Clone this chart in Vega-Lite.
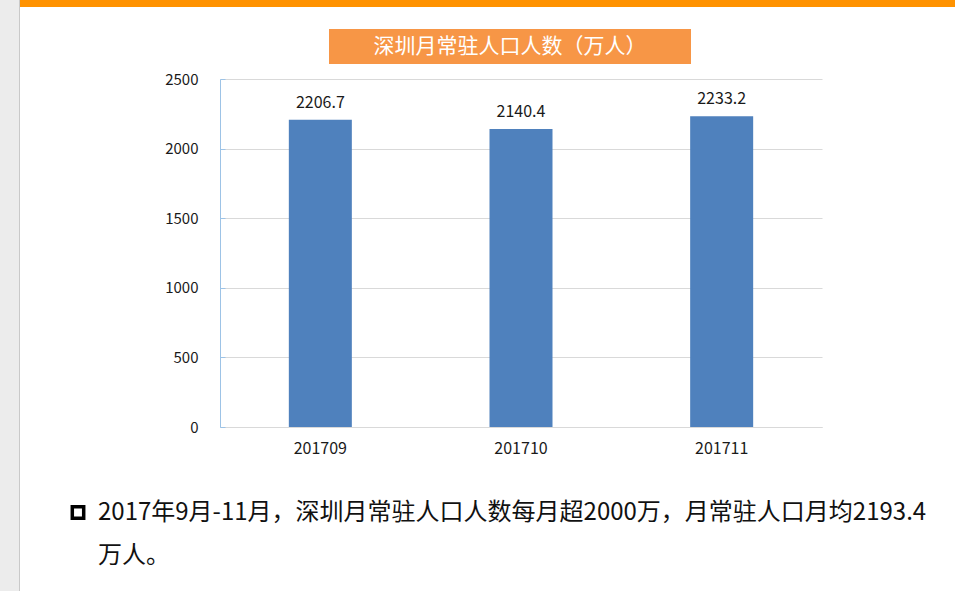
{
  "$schema": "https://vega.github.io/schema/vega-lite/v6.json",
  "padding": 0,
  "background": "#ffffff",
  "config": {
    "view": {"stroke": null},
    "font": "Noto Sans CJK SC",
    "concat": {"spacing": 0}
  },
  "hconcat": [
    {
      "width": 19, "height": 591,
      "data": {"values": [{}]},
      "view": {"fill": "#ececec", "stroke": null},
      "mark": {"type": "text", "text": "", "fontSize": 0}
    },
    {
      "width": 1, "height": 591,
      "data": {"values": [{}]},
      "view": {"fill": "#c9c9c9", "stroke": null},
      "mark": {"type": "text", "text": "", "fontSize": 0}
    },
    {
      "vconcat": [
        {
          "width": 935, "height": 7,
          "data": {"values": [{}]},
          "view": {"fill": "#ff9200", "stroke": null},
          "mark": {"type": "text", "text": "", "fontSize": 0}
        },
        {
          "width": 1, "height": 22,
          "data": {"values": [{}]},
          "mark": {"type": "text", "text": "", "fontSize": 0}
        },
        {
          "hconcat": [
            {
              "width": 309, "height": 35,
              "data": {"values": [{}]},
              "mark": {"type": "text", "text": "", "fontSize": 0}
            },
            {
              "width": 362, "height": 35,
              "data": {"values": [{}]},
              "view": {"fill": "#f79646", "stroke": null},
              "mark": {"type": "text", "text": "深圳月常驻人口人数（万人）", "color": "#ffffff", "fontSize": 21, "font": "Noto Sans CJK SC", "align": "center", "baseline": "middle"}
            }
          ],
          "spacing": 0,
          "bounds": "flush"
        },
        {
          "width": 1, "height": 8,
          "data": {"values": [{}]},
          "mark": {"type": "text", "text": "", "fontSize": 0}
        },
        {
          "hconcat": [
            {
              "width": 200, "height": 348,
              "data": {"values": [{}]},
              "mark": {"type": "text", "text": "", "fontSize": 0}
            },
            {
              "width": 602, "height": 348,
              "data": {"values": [
                {"month": "201709", "pop": 2206.7},
                {"month": "201710", "pop": 2140.4},
                {"month": "201711", "pop": 2233.2}
              ]},
              "encoding": {
                "x": {
                  "field": "month", "type": "nominal", "sort": null,
                  "scale": {"paddingInner": 0.686, "paddingOuter": 0.343},
                  "axis": {"title": null, "labelAngle": 0, "labelFontSize": 16, "labelColor": "#1a1a1a", "labelFont": "Noto Sans CJK SC", "ticks": false, "domainColor": "#d9d9d9", "domainWidth": 1, "labelPadding": 13}
                },
                "y": {
                  "field": "pop", "type": "quantitative",
                  "scale": {"domain": [0, 2500], "nice": false},
                  "axis": {"title": null, "values": [0, 500, 1000, 1500, 2000, 2500], "format": "d", "labelFontSize": 15, "labelColor": "#1a1a1a", "labelFont": "Noto Sans CJK SC", "gridColor": "#d9d9d9", "domainColor": "#9dc3e6", "tickColor": "#9dc3e6", "tickSize": -5, "labelPadding": 27}
                }
              },
              "layer": [
                {"mark": {"type": "bar", "color": "#4f81bd"}},
                {
                  "mark": {"type": "text", "baseline": "alphabetic", "dy": -12, "fontSize": 16, "font": "Noto Sans CJK SC", "color": "#1a1a1a"},
                  "encoding": {"text": {"field": "pop", "type": "quantitative", "format": ".1f"}}
                }
              ]
            }
          ],
          "spacing": 0,
          "bounds": "flush"
        },
        {
          "width": 1, "height": 35,
          "data": {"values": [{}]},
          "mark": {"type": "text", "text": "", "fontSize": 0}
        },
        {
          "hconcat": [
            {
              "width": 58, "height": 86,
              "data": {"values": [{}]},
              "mark": {"type": "text", "text": "", "fontSize": 0}
            },
            {
              "width": 860, "height": 86,
              "data": {"values": [
                {"line": 1, "t": "2017年9月-11月，深圳月常驻人口人数每月超2000万，月常驻人口月均2193.4"},
                {"line": 2, "t": "万人。"}
              ]},
              "encoding": {
                "y": {"field": "line", "type": "ordinal", "scale": {"type": "point", "padding": 0.5}, "axis": null},
                "x": {"datum": 0, "type": "quantitative", "scale": {"domain": [0, 1]}, "axis": null}
              },
              "layer": [
                {
                  "transform": [{"filter": "datum.line == 1"}],
                  "mark": {"type": "point", "shape": "square", "filled": false, "color": "#000000", "strokeWidth": 3.5, "size": 130, "opacity": 1}
                },
                {
                  "mark": {"type": "text", "align": "left", "baseline": "middle", "dx": 20, "fontSize": 24, "font": "Noto Sans CJK SC", "color": "#111111"},
                  "encoding": {"text": {"field": "t"}}
                }
              ]
            }
          ],
          "spacing": 0,
          "bounds": "flush"
        }
      ],
      "spacing": 0,
      "bounds": "full"
    }
  ],
  "spacing": 0,
  "bounds": "flush"
}
